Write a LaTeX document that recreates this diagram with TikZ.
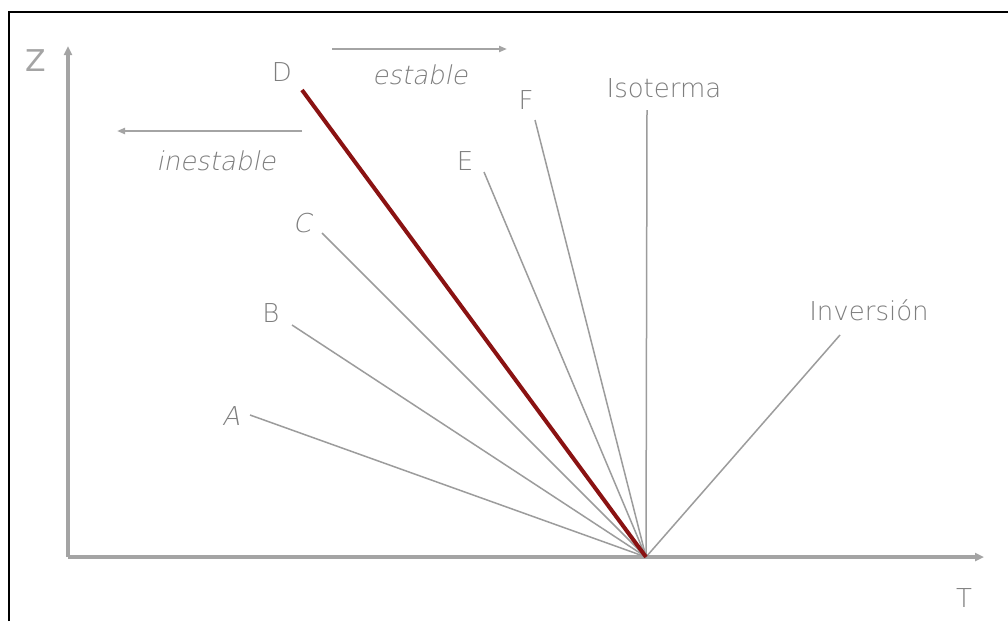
\documentclass[tikz,border=0pt]{standalone}
\usepackage{fontspec}
\setmainfont{DejaVu Sans ExtraLight}
\newfontfamily\slfont[FakeSlant=0.2]{DejaVu Sans ExtraLight}
\newfontfamily\regfont{DejaVu Sans}
\usetikzlibrary{arrows.meta}
\definecolor{lbl}{HTML}{7E7E7E}
\definecolor{axc}{HTML}{A4A4A4}
\definecolor{lnc}{HTML}{9C9C9C}
\definecolor{redl}{HTML}{8A1212}
\tikzset{
  lab/.style={text=lbl, font=\fontsize{26}{28}\selectfont, inner sep=0pt},
  slab/.style={lab, font=\fontsize{26}{28}\selectfont\slfont},
  axis/.style={draw=axc, line width=3.2pt, -{Triangle[length=9pt,width=8pt]}},
  ray/.style={draw=lnc, line width=1.5pt},
  hot/.style={draw=redl, line width=4pt},
  dirarrow/.style={draw=axc, line width=2pt, -{Triangle[length=8pt,width=6pt]}}
}
\begin{document}
\begin{tikzpicture}[x=1pt,y=-1pt]
\useasboundingbox (0,0) rectangle (1008,621);
\fill[white] (0,0) rectangle (1008,621);
% border
\draw[black, line width=2pt] (9,621) -- (9,12) -- (1008,12);
% origin
\coordinate (O) at (646,557);
\coordinate (zbot) at (68,557);
\coordinate (ztop) at (68,46);
\coordinate (tend) at (984,557);
\draw[axis] (zbot) -- (ztop);
\draw[axis] (zbot) -- (tend);
\node[lab, text=axc, font=\fontsize{30}{32}\selectfont\regfont] (Z) at (36,61) {Z};
\node[lab] (T) at (964,598) {T};
% rays
\coordinate (a1) at (250,415);
\coordinate (b1) at (292,325);
\coordinate (c1) at (322,233);
\coordinate (d1) at (302,90);
\coordinate (e1) at (484,172);
\coordinate (f1) at (535,120);
\coordinate (iso1) at (647,110);
\coordinate (inv1) at (840,335);
\draw[ray] (a1) -- (O);
\draw[ray] (b1) -- (O);
\draw[ray] (c1) -- (O);
\draw[ray] (e1) -- (O);
\draw[ray] (f1) -- (O);
\draw[ray] (iso1) -- (O);
\draw[ray] (inv1) -- (O);
\draw[hot] (d1) -- (O);
% labels
\node[slab] (A) at (231,416) {A};
\node[lab] (B) at (271,313) {B};
\node[slab] (C) at (302,223) {C};
\node[lab] (D) at (282,72) {D};
\node[lab] (E) at (465,161) {E};
\node[lab] (F) at (526,100) {F};
\node[lab, anchor=base] (iso) at (664,97) {Isoterma};
\node[lab, anchor=base] (inv) at (869,320) {Inversión};
% stability arrows
\coordinate (ie1) at (302,131);
\coordinate (ie2) at (117,131);
\coordinate (es1) at (332,49);
\coordinate (es2) at (507,49);
\draw[dirarrow] (ie1) -- (ie2);
\draw[dirarrow] (es1) -- (es2);
\node[slab, anchor=base] (ines) at (216,170) {inestable};
\node[slab, anchor=base] (est) at (420,84) {estable};
\end{tikzpicture}
\end{document}
